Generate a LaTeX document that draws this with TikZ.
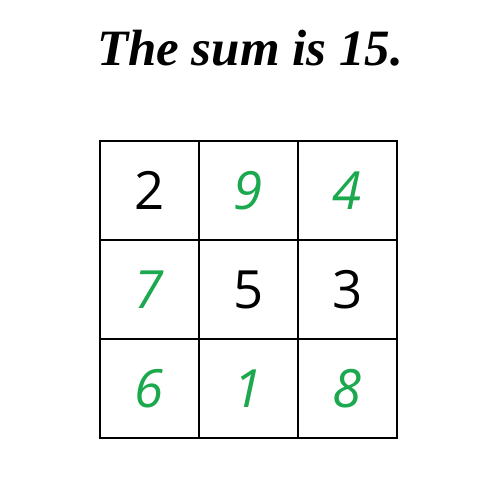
\documentclass[tikz,border=0pt]{standalone}
\usepackage{fontspec}
\setmainfont{Liberation Serif}
\newfontfamily\cifra{Open Sans}
\definecolor{verde}{RGB}{28,168,78}
\tikzset{
  casella/.style={draw=black, line width=1.2pt, minimum size=1.98cm, inner sep=0pt, font=\cifra\fontsize{30}{30}\selectfont},
  dato/.style={casella, text=black},
  trovato/.style={casella, text=verde, font=\cifra\itshape\fontsize{30}{30}\selectfont}
}
\begin{document}
\begin{tikzpicture}
\useasboundingbox (0,0) rectangle (10,10);

%titolo
\node at (5,9.04) (Titolo) {\fontsize{29}{29}\selectfont\bfseries\itshape The sum is 15.};

%riga 1
\node[dato]    at (2.99,6.19) (c11) {2};
\node[trovato] at (4.97,6.19) (c12) {9};
\node[trovato] at (6.95,6.19) (c13) {4};

%riga 2
\node[trovato] at (2.99,4.21) (c21) {7};
\node[dato]    at (4.97,4.21) (c22) {5};
\node[dato]    at (6.95,4.21) (c23) {3};

%riga 3
\node[trovato] at (2.99,2.23) (c31) {6};
\node[trovato] at (4.97,2.23) (c32) {1};
\node[trovato] at (6.95,2.23) (c33) {8};

\end{tikzpicture}
\end{document}
